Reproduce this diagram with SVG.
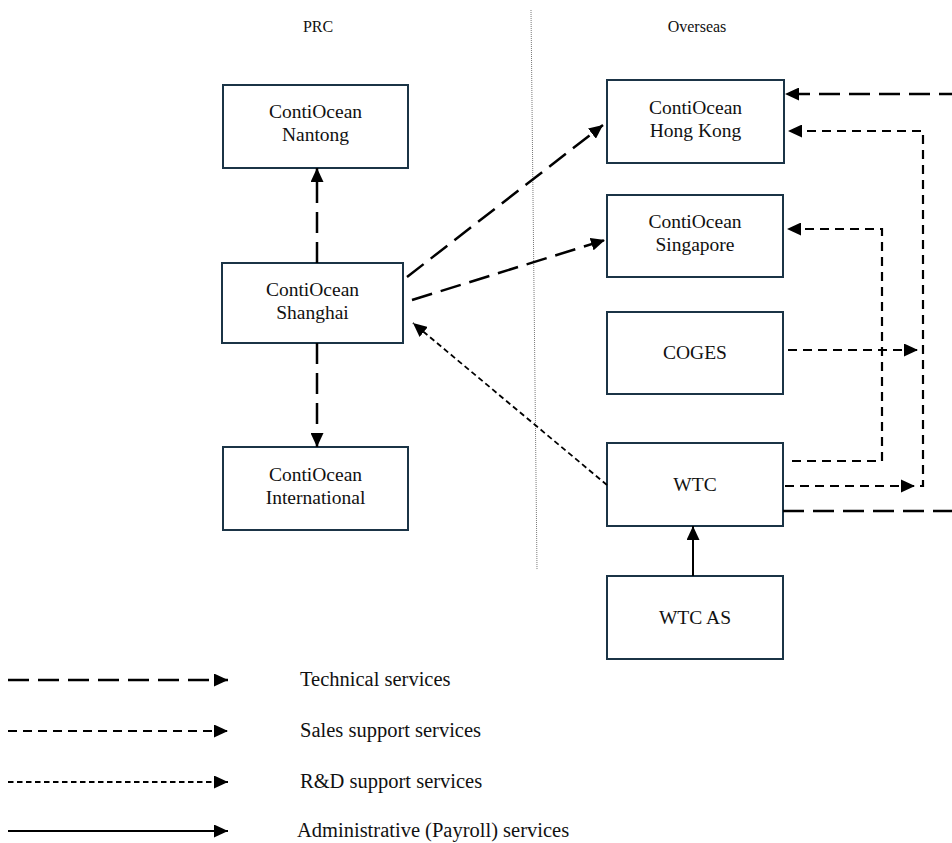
<svg xmlns="http://www.w3.org/2000/svg" width="952" height="843" viewBox="0 0 952 843">
<style>
.box{fill:#fff;stroke:#1b3446;stroke-width:2}
.t{font-family:"Liberation Serif","Times New Roman",serif;font-size:19.5px;fill:#111;text-anchor:middle}
.lg{font-family:"Liberation Serif","Times New Roman",serif;font-size:20.5px;fill:#111}
.hd{font-family:"Liberation Serif","Times New Roman",serif;font-size:16px;fill:#111;text-anchor:middle}
.tech{fill:none;stroke:#000;stroke-width:2.5;stroke-dasharray:21 9}
.sales{fill:none;stroke:#000;stroke-width:2.2;stroke-dasharray:9 6}
.rd{fill:none;stroke:#000;stroke-width:1.8;stroke-dasharray:5.5 3.5}
.adm{fill:none;stroke:#000;stroke-width:2}
</style>
<defs>
<marker id="ah" markerUnits="userSpaceOnUse" markerWidth="15" markerHeight="13" refX="14" refY="6.5" orient="auto">
<path d="M0,0 L14,6.5 L0,13 z" fill="#000"/>
</marker>
</defs>
<line x1="531" y1="10" x2="537" y2="570" stroke="#777" stroke-width="1" stroke-dasharray="1 1"/>
<text class="hd" x="318" y="32">PRC</text>
<text class="hd" x="697" y="32">Overseas</text>
<g id="nantong"><rect class="box" x="223" y="85" width="185" height="83"/><text class="t" x="315.5" y="118">ContiOcean</text><text class="t" x="315.5" y="141">Nantong</text></g>
<g id="shanghai"><rect class="box" x="222" y="263" width="181" height="80"/><text class="t" x="312.5" y="296">ContiOcean</text><text class="t" x="312.5" y="319">Shanghai</text></g>
<g id="international"><rect class="box" x="223" y="447" width="185" height="83"/><text class="t" x="315.5" y="481">ContiOcean</text><text class="t" x="315.5" y="504">International</text></g>
<g id="hongkong"><rect class="box" x="607" y="80" width="177" height="83"/><text class="t" x="695.5" y="114">ContiOcean</text><text class="t" x="695.5" y="137">Hong Kong</text></g>
<g id="singapore"><rect class="box" x="607" y="195" width="176" height="82"/><text class="t" x="695" y="228">ContiOcean</text><text class="t" x="695" y="251">Singapore</text></g>
<g id="coges"><rect class="box" x="607" y="312" width="176" height="82"/><text class="t" x="695" y="359">COGES</text></g>
<g id="wtc"><rect class="box" x="607" y="443" width="176" height="83"/><text class="t" x="695" y="491">WTC</text></g>
<g id="wtcas"><rect class="box" x="607" y="576" width="176" height="83"/><text class="t" x="695" y="624">WTC AS</text></g>
<g id="connectors">
<path class="tech" d="M317,263 V168" marker-end="url(#ah)"/>
<path class="tech" d="M317,343 V447" marker-end="url(#ah)"/>
<path class="tech" d="M407,277 L603,125" marker-end="url(#ah)"/>
<path class="tech" d="M412,300 L605,240" marker-end="url(#ah)"/>
<path class="rd" d="M607,485 L413,323" marker-end="url(#ah)"/>
<path class="tech" d="M960,94 H785" marker-end="url(#ah)"/>
<path class="tech" d="M783,511 H960"/>
<path class="sales" d="M785,486 H923 V131 H788" marker-end="url(#ah)"/>
<path d="M901,479.5 L915,486 L901,492.5 z" fill="#000"/>
<path class="sales" d="M788,350 H918" marker-end="url(#ah)"/>
<path class="sales" d="M792,461 H882 V229 H787" marker-end="url(#ah)"/>
<path class="adm" d="M693,576 V526" marker-end="url(#ah)"/>
</g>
<g id="legend">
<path class="tech" d="M8,680 H228" marker-end="url(#ah)"/>
<path class="sales" d="M8,731 H228" marker-end="url(#ah)"/>
<path class="rd" d="M8,782 H228" marker-end="url(#ah)"/>
<path class="adm" d="M8,831 H228" marker-end="url(#ah)"/>
<text class="lg" x="300" y="686">Technical services</text>
<text class="lg" x="300" y="737">Sales support services</text>
<text class="lg" x="300" y="788">R&amp;D support services</text>
<text class="lg" x="297" y="837">Administrative (Payroll) services</text>
</g>
</svg>
